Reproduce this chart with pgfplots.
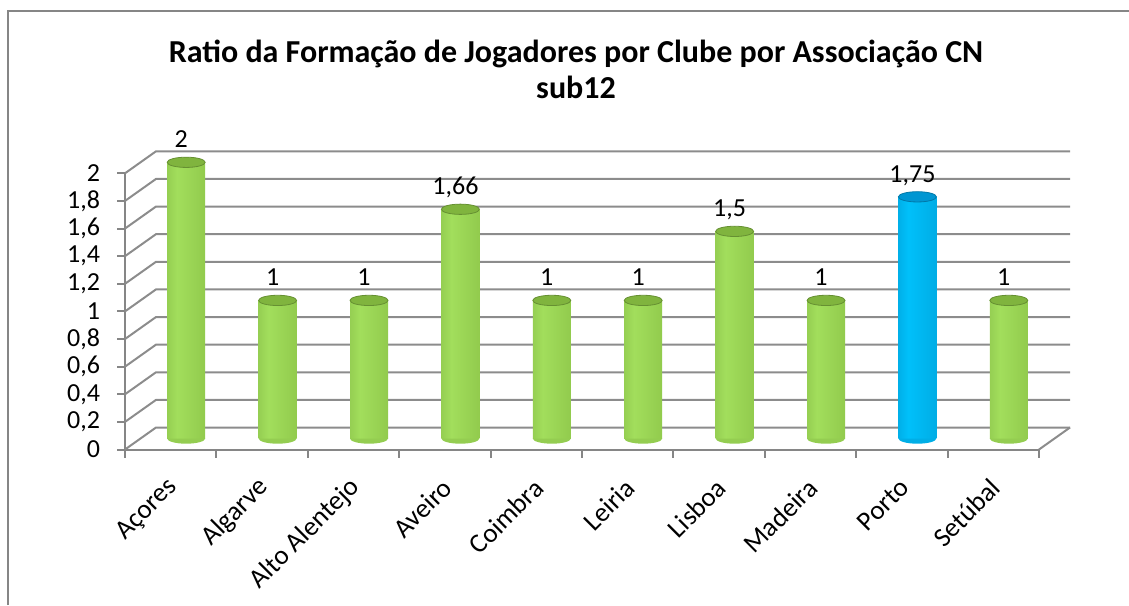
\documentclass[border=0pt]{standalone}
\usepackage{fontspec}
\setmainfont{Carlito}
\usepackage{pgfplots}
\pgfplotsset{compat=1.18}
\definecolor{frame}{RGB}{134,134,134}
\definecolor{gridc}{RGB}{140,140,140}
\definecolor{gL}{RGB}{90,135,38}
\definecolor{gM}{RGB}{162,222,92}
\definecolor{gR}{RGB}{118,170,52}
\definecolor{gT}{RGB}{128,180,62}
\definecolor{bL}{RGB}{0,100,150}
\definecolor{bM}{RGB}{0,192,250}
\definecolor{bR}{RGB}{0,140,195}
\definecolor{bT}{RGB}{0,150,210}
\pgfdeclarehorizontalshading{cylg}{100bp}{color(0bp)=(gL); color(12bp)=(gM!65!gL); color(38bp)=(gM); color(78bp)=(gM!60!gR); color(100bp)=(gR!80!black)}
\pgfdeclarehorizontalshading{cylb}{100bp}{color(0bp)=(bL); color(12bp)=(bM!65!bL); color(38bp)=(bM); color(78bp)=(bM!60!bR); color(100bp)=(bR!80!black)}
\newcommand{\lbl}{\fontsize{13}{15.6}\selectfont}
\pgfdeclareplotmark{halfell}{%
  \pgfpathmoveto{\pgfqpoint{-9.5pt}{0pt}}%
  \pgfpatharc{180}{360}{9.5pt and 2.6pt}%
  \pgfpathclose\pgfusepathqfill}
\newcommand{\cylbar}[3]{%
  \addplot[ybar, bar width=19pt, bar shift=0pt, xshift=7.75pt, yshift=5.5pt, draw=none,
    shade, shading=#3] coordinates {(#1,#2)};}
\begin{document}
\begin{tikzpicture}
\useasboundingbox (0,0) rectangle (564.5pt,-302.5pt);
\draw[frame, line width=1pt] (3.75pt,-302.5pt) -- (3.75pt,-5.25pt) -- (564.5pt,-5.25pt);
\node[font=\fontsize{16}{19}\selectfont\bfseries, anchor=base] at (288pt,-31pt) {Ratio da Formação de Jogadores por Clube por Associação CN};
\node[font=\fontsize{16}{19}\selectfont\bfseries, anchor=base] at (288pt,-49pt) {sub12};
\begin{axis}[
  at={(62.5pt,-224.75pt)}, anchor=south west,
  scale only axis, width=457pt, height=138.1pt,
  xmin=-0.5, xmax=9.5, ymin=0, ymax=2,
  clip=false,
  axis x line*=bottom, axis y line*=left,
  axis line style={frame, line width=1pt},
  tick style={frame, line width=1pt},
  tick align=outside, major tick length=4pt,
  ytick={0,0.2,0.4,0.6,0.8,1,1.2,1.4,1.6,1.8,2},
  xtick={-0.5,0.5,1.5,2.5,3.5,4.5,5.5,6.5,7.5,8.5,9.5},
  xticklabels={Açores,Algarve,Alto Alentejo,Aveiro,Coimbra,Leiria,Lisboa,Madeira,Porto,Setúbal,{}},
  xticklabel style={font=\fontsize{13.5}{16}\selectfont, xshift=26.5pt, yshift=-10.5pt, rotate=45, anchor=east},
  yticklabel style={font=\lbl, xshift=-5pt},
  /pgf/number format/.cd, use comma, assume math mode=true,
]
\pgfplotsinvokeforeach{0,0.2,0.4,0.6,0.8,1,1.2,1.4,1.6,1.8,2}{
  \draw[gridc, line width=1pt] (axis cs:-0.5,#1) -- ([shift={(15.5pt,11pt)}]axis cs:-0.5,#1) -- ([shift={(15.5pt,11pt)}]axis cs:9.5,#1);
}
\draw[gridc, line width=1pt] (axis cs:9.5,0) -- ([shift={(15.5pt,11pt)}]axis cs:9.5,0);
% bottom half ellipses
\addplot[only marks, mark=halfell, mark options={fill=gM!80!gL, draw=none}, xshift=7.75pt, yshift=5.5pt]
  coordinates {(0,0)(1,0)(2,0)(3,0)(4,0)(5,0)(6,0)(7,0)(9,0)};
\addplot[only marks, mark=halfell, mark options={fill=bM!80!bL, draw=none}, xshift=7.75pt, yshift=5.5pt]
  coordinates {(8,0)};
% bars (one path each, so each gets its own shading)
\cylbar{0}{2}{cylg}
\cylbar{1}{1}{cylg}
\cylbar{2}{1}{cylg}
\cylbar{3}{1.66}{cylg}
\cylbar{4}{1}{cylg}
\cylbar{5}{1}{cylg}
\cylbar{6}{1.5}{cylg}
\cylbar{7}{1}{cylg}
\cylbar{8}{1.75}{cylb}
\cylbar{9}{1}{cylg}
% tops
\addplot[only marks, mark=*, mark size=9.5pt, mark options={yscale=0.27, fill=gT, draw=gT!80!black, line width=0.4pt}, xshift=7.75pt, yshift=5.5pt]
  coordinates {(0,2)(1,1)(2,1)(3,1.66)(4,1)(5,1)(6,1.5)(7,1)(9,1)};
\addplot[only marks, mark=*, mark size=9.5pt, mark options={yscale=0.27, fill=bT, draw=bT!80!black, line width=0.4pt}, xshift=7.75pt, yshift=5.5pt]
  coordinates {(8,1.75)};
% data labels
\addplot[draw=none, mark=none, nodes near coords, every node near coord/.append style={anchor=base, xshift=5.25pt, yshift=12.75pt, font=\lbl, text=black}]
  coordinates {(0,2)(1,1)(2,1)(3,1.66)(4,1)(5,1)(6,1.5)(7,1)(8,1.75)(9,1)};
\end{axis}
\end{tikzpicture}
\end{document}
